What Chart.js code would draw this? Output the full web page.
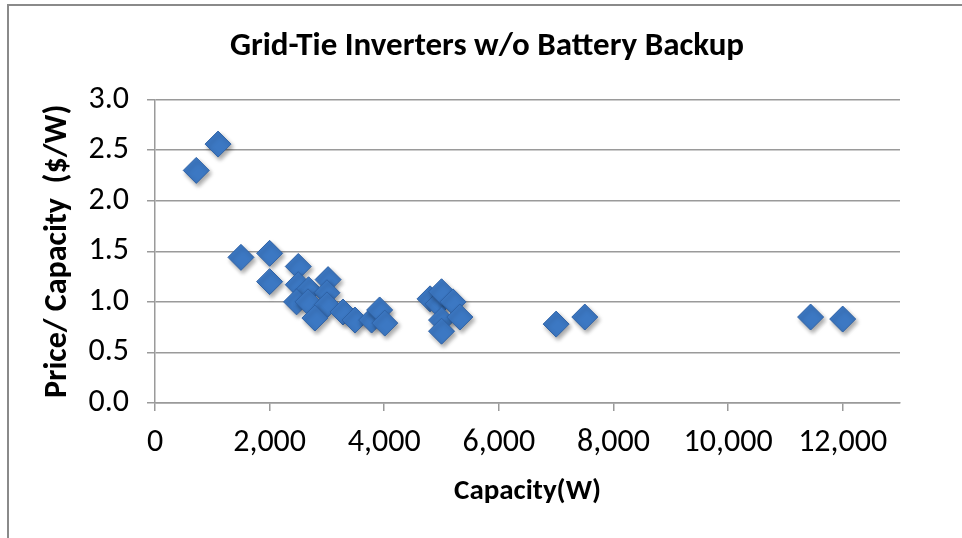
<!DOCTYPE html>
<html>
<head>
<meta charset="utf-8">
<title>Grid-Tie Inverters w/o Battery Backup</title>
<script src="https://cdn.jsdelivr.net/npm/chart.js@4.4.0/dist/chart.umd.min.js"></script>
<style>
  html, body { margin: 0; padding: 0; background: #fff; }
  #wrap { position: relative; width: 962px; height: 538px; }
  #frame {
    position: absolute; left: 7px; top: 4px; right: 0; bottom: 0;
    border-left: 2px solid #8a8a8a; border-top: 2px solid #8a8a8a;
    pointer-events: none;
  }
</style>
</head>
<body>
<div id="wrap">
  <canvas id="chart" width="962" height="538"></canvas>
  <div id="frame"></div>
</div>
<script>
const capacity = [720, 1100, 1500, 2000, 2000, 2500, 2500, 2680, 3020, 3000,
  2470, 2670, 3000, 2790, 3280, 3490, 3780, 3920, 4010, 4800,
  4940, 5000, 5200, 5000, 5320, 5000, 7000, 7500, 11440, 12000];
const pricePerWatt = [2.30, 2.56, 1.44, 1.48, 1.20, 1.35, 1.17, 1.12, 1.22, 1.09,
  1.00, 1.00, 0.97, 0.84, 0.90, 0.82, 0.82, 0.92, 0.79, 1.03,
  0.98, 1.10, 1.00, 0.82, 0.85, 0.71, 0.78, 0.85, 0.85, 0.83];
const xTicks = [0, 2000, 4000, 6000, 8000, 10000, 12000];

const blue = '#3c78c3';
const grid = '#9a9a9a';
const font = 'Carlito, Lato, "Open Sans", sans-serif';

// soft drop shadow under the markers, like the spreadsheet original
const shadow = {
  id: 'shadow',
  beforeDatasetsDraw(chart) {
    const c = chart.ctx;
    c.save();
    c.shadowColor = 'rgba(0,0,0,0.35)';
    c.shadowBlur = 4;
    c.shadowOffsetX = 2;
    c.shadowOffsetY = 3;
  },
  afterDatasetsDraw(chart) {
    chart.ctx.restore();
  }
};

new Chart(document.getElementById('chart'), {
  type: 'scatter',
  data: {
    datasets: [{
      label: 'Price/Capacity',
      data: capacity.map((c, i) => ({ x: c, y: pricePerWatt[i] })),
      pointStyle: 'rectRot',
      pointRadius: 13,
      backgroundColor: blue,
      borderColor: '#2f62a6',
      borderWidth: 1
    }]
  },
  plugins: [shadow],
  options: {
    responsive: false,
    animation: false,
    layout: { padding: { left: 74, right: 62 } },
    plugins: {
      legend: { display: false },
      tooltip: { enabled: false },
      title: {
        display: true,
        text: 'Grid-Tie Inverters w/o Battery Backup',
        color: '#000',
        font: { family: font, size: 33, weight: 'bold' },
        padding: { top: 27, bottom: 33 }
      }
    },
    scales: {
      x: {
        type: 'linear',
        min: 0,
        max: 13000,
        afterBuildTicks: s => { s.ticks = xTicks.map(v => ({ value: v })); },
        afterFit: s => { s.height = 135; },
        grid: { drawOnChartArea: false, color: grid, lineWidth: 1.5, tickLength: 8 },
        border: { color: grid, width: 1.5 },
        ticks: {
          autoSkip: false,
          padding: 13,
          maxRotation: 0,
          color: '#000',
          font: { family: font, size: 32 },
          callback: v => v.toLocaleString('en-US')
        },
        title: {
          display: true,
          text: 'Capacity(W)',
          color: '#000',
          font: { family: font, size: 29, weight: 'bold' },
          padding: { top: 0, bottom: 29 }
        }
      },
      y: {
        min: 0,
        max: 3,
        afterFit: s => { s.width = 81; },
        grid: { color: grid, lineWidth: 1.5, tickLength: 8 },
        border: { color: grid, width: 1.5 },
        ticks: {
          stepSize: 0.5,
          padding: 18,
          color: '#000',
          font: { family: font, size: 32 },
          callback: v => v.toFixed(1)
        },
        title: {
          display: true,
          text: 'Price/ Capacity  ($/W)',
          color: '#000',
          font: { family: font, size: 32, weight: 'bold' },
          padding: { top: -35, bottom: 0 }
        }
      }
    }
  }
});
</script>
</body>
</html>
